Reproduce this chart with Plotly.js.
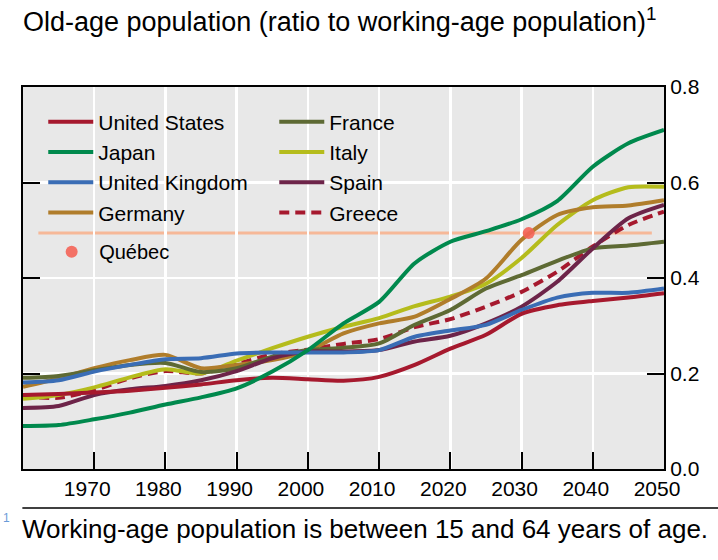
<!DOCTYPE html>
<html><head><meta charset="utf-8">
<script src="https://cdn.plot.ly/plotly-3.0.1.min.js"></script>
<style>html,body{margin:0;padding:0;background:#fff}#chart{width:718px;height:560px}</style>
</head><body><div id="chart"></div>
<script>
// ---- data ----
const years = [1960,1965,1970,1975,1980,1985,1990,1995,2000,2005,2010,2015,2020,2025,2030,2035,2040,2045,2050];
const unitedStates  = [0.155,0.157,0.160,0.164,0.170,0.177,0.186,0.191,0.188,0.185,0.193,0.218,0.252,0.281,0.325,0.343,0.352,0.359,0.368];
const japan         = [0.090,0.092,0.104,0.118,0.135,0.150,0.169,0.204,0.249,0.305,0.350,0.431,0.476,0.498,0.523,0.561,0.633,0.682,0.710];
const unitedKingdom = [0.181,0.186,0.204,0.218,0.230,0.232,0.242,0.244,0.244,0.244,0.249,0.277,0.290,0.302,0.333,0.359,0.369,0.369,0.378];
const germany       = [0.172,0.190,0.211,0.228,0.239,0.211,0.218,0.228,0.247,0.284,0.305,0.319,0.356,0.399,0.480,0.532,0.548,0.552,0.563];
const france        = [0.191,0.195,0.207,0.218,0.222,0.203,0.211,0.235,0.249,0.254,0.263,0.302,0.333,0.378,0.406,0.436,0.462,0.468,0.476];
const italy         = [0.147,0.155,0.171,0.192,0.209,0.200,0.227,0.253,0.277,0.298,0.316,0.341,0.361,0.388,0.442,0.511,0.563,0.590,0.591];
const spain         = [0.128,0.132,0.155,0.167,0.174,0.186,0.205,0.232,0.246,0.246,0.249,0.267,0.279,0.305,0.340,0.392,0.462,0.525,0.553];
const greece        = [0.152,0.149,0.165,0.190,0.205,0.200,0.220,0.240,0.250,0.262,0.272,0.297,0.314,0.340,0.371,0.413,0.466,0.511,0.539];
const quebecYear  = [2031];
const quebecValue = [0.494];

const xTickVals  = [1970,1980,1990,2000,2010,2020,2030,2040,2050];
const xTickText  = ['1970','1980','1990','2000','2010','2020','2030','2040','2050'];
const yTickVals  = [0,0.2,0.4,0.6,0.8];
const yTickText  = ['0.0','0.2','0.4','0.6','0.8'];

const titleText = 'Old-age population (ratio to working-age population)<sup>1</sup>';
const footnoteText = 'Working-age population is between 15 and 64 years of age.';

// ---- styling ----
const FONT = 'Liberation Sans, Arial, Helvetica, sans-serif';

function series(name, y, color, legend, rank, dash) {
  return {
    type: 'scatter', mode: 'lines', name: name,
    x: years, y: y,
    line: {color: color, width: 4, shape: 'spline', smoothing: 0.7, dash: dash || 'solid'},
    legend: legend, legendrank: rank, hoverinfo: 'skip'
  };
}

const data = [
  series('Greece', greece, '#a6192e', 'legend2', 4, '10px,6px'),
  series('Italy', italy, '#b5bc1c', 'legend2', 2),
  series('Germany', germany, '#b07d2b', 'legend', 4),
  series('France', france, '#5e6a34', 'legend2', 1),
  series('Spain', spain, '#6d2449', 'legend2', 3),
  series('United Kingdom', unitedKingdom, '#3a6db5', 'legend', 3),
  series('United States', unitedStates, '#a6192e', 'legend', 1),
  series('Japan', japan, '#00894d', 'legend', 2),
  {
    type: 'scatter', mode: 'markers', name: 'Québec',
    x: quebecYear, y: quebecValue,
    marker: {color: 'rgba(244,100,88,0.9)', size: 12},
    legend: 'legend3', hoverinfo: 'skip'
  }
];

const legendBase = {
  bgcolor: 'rgba(0,0,0,0)', borderwidth: 0,
  xanchor: 'left', yanchor: 'top', traceorder: 'normal', itemwidth: 45,
  font: {family: FONT, size: 21, color: '#000'}
};

const layout = {
  width: 718, height: 560,
  margin: {l: 23, r: 54, t: 87, b: 91},
  paper_bgcolor: '#ffffff', plot_bgcolor: '#e8e8e8',
  font: {family: FONT, color: '#000'},
  showlegend: true,
  title: {
    text: titleText, xref: 'paper', x: 0, xanchor: 'left',
    yref: 'container', y: 0.961, yanchor: 'middle',
    font: {family: FONT, size: 27, color: '#000'}
  },
  xaxis: {
    range: [1960, 2050], tickmode: 'array', tickvals: xTickVals, ticktext: xTickText,
    ticks: 'inside', ticklen: 17, tickwidth: 2, tickcolor: '#000',
    showline: true, linecolor: '#000', linewidth: 2, mirror: true,
    showgrid: true, gridcolor: '#ffffff', gridwidth: 2.5, zeroline: false,
    tickfont: {family: FONT, size: 21, color: '#000'}, ticklabelshift: -7,
    fixedrange: true
  },
  yaxis: {
    range: [0, 0.8], side: 'right', tickmode: 'array', tickvals: yTickVals, ticktext: yTickText,
    ticks: 'inside', ticklen: 17, tickwidth: 2, tickcolor: '#000',
    showline: true, linecolor: '#000', linewidth: 2, mirror: 'ticks',
    showgrid: true, gridcolor: '#ffffff', gridwidth: 2.5, zeroline: false,
    tickfont: {family: FONT, size: 21, color: '#000'},
    fixedrange: true
  },
  legend:  Object.assign({}, legendBase, {x: 0.0316, y: 0.962}),
  legend2: Object.assign({}, legendBase, {x: 0.392, y: 0.962}),
  legend3: Object.assign({}, legendBase, {x: 0.033, y: 0.62, font: {family: FONT, size: 20, color: '#000'}}),
  shapes: [
    {type: 'line', layer: 'between', xref: 'paper', yref: 'y',
     x0: 0.024, x1: 0.981, y0: quebecValue[0], y1: quebecValue[0],
     line: {color: '#f6b898', width: 3}},
    {type: 'line', xref: 'paper', yref: 'paper',
     x0: -0.001, x1: 1.1, y0: -0.102, y1: -0.102,
     line: {color: '#000', width: 1.5}}
  ],
  annotations: [
    {text: footnoteText, xref: 'paper', yref: 'paper', x: -0.005, y: -0.157,
     xanchor: 'left', yanchor: 'middle', showarrow: false,
     font: {family: FONT, size: 26, color: '#000'}},
    {text: '1', xref: 'paper', yref: 'paper', x: -0.035, y: -0.128,
     xanchor: 'left', yanchor: 'middle', showarrow: false,
     font: {family: FONT, size: 12, color: '#6a9bd8'}}
  ]
};

Plotly.newPlot('chart', data, layout, {displayModeBar: false, staticPlot: true});
</script>
</body></html>
